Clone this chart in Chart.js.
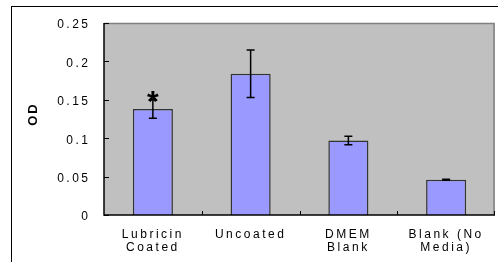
<!DOCTYPE html>
<html><head><meta charset="utf-8">
<script src="https://cdn.jsdelivr.net/npm/chart.js@4/dist/chart.umd.min.js"></script>
<style>html,body{margin:0;padding:0;background:#fff;}#wrap{width:498px;height:262px;}</style>
</head><body><div id="wrap"><canvas id="c" width="498" height="262"></canvas></div>
<script>
const categories = [["Lubricin", "Coated"], "Uncoated", ["DMEM", "Blank"], ["Blank (No", "Media)"]];
const odValues = [0.138, 0.184, 0.097, 0.046];
const odErrors = [0.012, 0.031, 0.0055, 0.0006];
const significant = [true, false, false, false];
const yTickLabels = ["0", "0.05", "0.1", "0.15", "0.2", "0.25"];
const yAxisTitle = "OD";

const FONT = "'Liberation Sans', Arial, sans-serif";
const LS = '2.5px';

const decor = {
  id: 'decor',
  beforeLayout(chart) { chart.ctx.letterSpacing = LS; },
  beforeDraw(chart) {
    const ctx = chart.ctx, a = chart.chartArea;
    ctx.letterSpacing = LS;
    ctx.save();
    ctx.fillStyle = '#ffffff';
    ctx.fillRect(0, 0, chart.width, chart.height);
    // outer frame
    ctx.strokeStyle = '#000';
    ctx.lineWidth = 1;
    ctx.strokeRect(11.5, 6.5, 700, 700);
    // plot background
    ctx.fillStyle = '#c0c0c0';
    ctx.fillRect(a.left, a.top, a.right - a.left, a.bottom - a.top);
    ctx.restore();
  },
  afterDraw(chart) {
    const ctx = chart.ctx, a = chart.chartArea;
    const x = chart.scales.x, y = chart.scales.y;
    ctx.save();
    // top & right border (grey)
    ctx.strokeStyle = '#808080';
    ctx.lineWidth = 1.5;
    ctx.beginPath();
    ctx.moveTo(a.left, a.top + 0.5); ctx.lineTo(a.right - 1, a.top + 0.5);
    ctx.lineTo(a.right - 1, a.bottom);
    ctx.stroke();
    // axes (black)
    ctx.strokeStyle = '#000';
    ctx.lineWidth = 1.5;
    ctx.beginPath();
    ctx.moveTo(a.left, a.top); ctx.lineTo(a.left, a.bottom);
    ctx.lineTo(a.right, a.bottom);
    ctx.stroke();
    // y tick marks (inside)
    ctx.lineWidth = 1;
    y.ticks.forEach(t => {
      const py = Math.round(y.getPixelForValue(t.value)) + 0.5;
      ctx.beginPath(); ctx.moveTo(a.left, py); ctx.lineTo(a.left + 5, py); ctx.stroke();
    });
    // x tick marks at category boundaries (inside)
    for (let i = 0; i < categories.length; i++) {
      const bx = i < categories.length - 1
        ? (x.getPixelForValue(i) + x.getPixelForValue(i + 1)) / 2
        : a.right - 1;
      const px = Math.round(bx) + 0.5;
      ctx.beginPath(); ctx.moveTo(px, a.bottom); ctx.lineTo(px, a.bottom - 4); ctx.stroke();
    }
    // error bars
    ctx.lineWidth = 1.5;
    odValues.forEach((v, i) => {
      const cx = x.getPixelForValue(i);
      const yt = y.getPixelForValue(v + odErrors[i]);
      const yb = y.getPixelForValue(v - odErrors[i]);
      ctx.beginPath();
      ctx.moveTo(cx, yt); ctx.lineTo(cx, yb);
      ctx.moveTo(cx - 4, yt); ctx.lineTo(cx + 4, yt);
      ctx.moveTo(cx - 4, yb); ctx.lineTo(cx + 4, yb);
      ctx.stroke();
      if (significant[i]) {
        ctx.fillStyle = '#000';
        ctx.letterSpacing = '0px';
        ctx.font = "bold 30px " + FONT;
        ctx.textAlign = 'center';
        ctx.textBaseline = 'alphabetic';
        ctx.fillText('*', cx, yt + 11);
      }
    });
    // y axis title
    ctx.fillStyle = '#000';
    ctx.letterSpacing = '2px';
    ctx.font = "bold 13px " + FONT;
    ctx.translate(33, 114);
    ctx.rotate(-Math.PI / 2);
    ctx.textAlign = 'center';
    ctx.textBaseline = 'middle';
    ctx.fillText(yAxisTitle, 0, 0);
    ctx.restore();
  }
};

new Chart(document.getElementById('c'), {
  type: 'bar',
  data: {
    labels: categories,
    datasets: [{
      data: odValues,
      backgroundColor: '#9999ff',
      borderColor: '#333333',
      borderWidth: 1.5,
      categoryPercentage: 1,
      barPercentage: 0.41
    }]
  },
  options: {
    responsive: false,
    animation: false,
    devicePixelRatio: 1,
    layout: { padding: { left: 0, top: 23, right: 3, bottom: 0 } },
    plugins: { legend: { display: false }, tooltip: { enabled: false } },
    scales: {
      x: {
        grid: { display: false, drawTicks: false },
        border: { display: false },
        ticks: { color: '#000', font: { family: FONT, size: 12, lineHeight: 1.1 }, padding: 13, maxRotation: 0, autoSkip: false },
        afterFit(s) { s.height = 47; }
      },
      y: {
        min: 0, max: 0.25,
        grid: { display: false, drawTicks: false },
        border: { display: false },
        title: { display: false, text: yAxisTitle },
        ticks: {
          stepSize: 0.05, color: '#000', padding: 13.5, labelOffset: 2,
          font: { family: FONT, size: 12 },
          callback: (v, i) => yTickLabels[i]
        },
        afterFit(s) { s.width = 104; }
      }
    }
  },
  plugins: [decor]
});
</script>
</body></html>
